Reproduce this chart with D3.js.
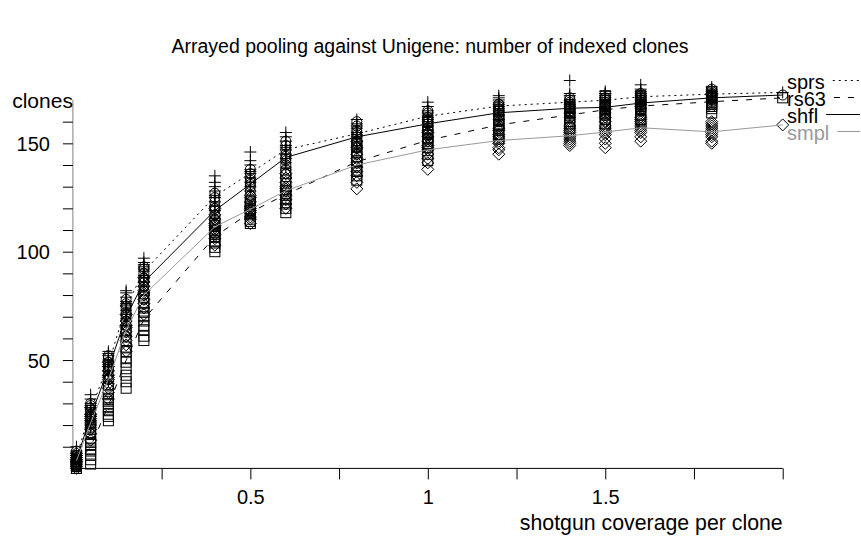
<!DOCTYPE html>
<html>
<head>
<meta charset="utf-8">
<script src="https://cdn.jsdelivr.net/npm/d3@7"></script>
<style>
  html, body { margin: 0; padding: 0; background: #fff; }
  svg { display: block; }
  text { font-family: "Liberation Sans", Arial, sans-serif; }
</style>
</head>
<body>
<svg id="chart" width="861" height="540"></svg>
<script>
// ---- data ----
const title = "Arrayed pooling against Unigene: number of indexed clones";
const xLabel = "shotgun coverage per clone";
const yLabel = "clones";
const coverage = [0.01, 0.05, 0.1, 0.15, 0.2, 0.4, 0.5, 0.6, 0.8, 1.0, 1.2, 1.4, 1.5, 1.6, 1.8, 2.0];
const xTickValues = [0.25, 0.5, 0.75, 1, 1.25, 1.5, 1.75, 2];
const xTickLabels = {0.5: "0.5", 1: "1", 1.5: "1.5"};
const yTickValues = [10, 20, 30, 40, 50, 60, 70, 80, 90, 100, 110, 120, 130, 140, 150, 160];
const yTickLabels = {50: "50", 100: "100", 150: "150"};
const seriesNames = ["sprs", "rs63", "shfl", "smpl"];

// replicate values per coverage level
const sprs = [
  [1,2,3,4,5,5,6,7,8,10], [19,22,24,25,27,28,29,30,32,34], [40,43,45,47,48,49,50,52,53,54],
  [66,69,71,73,75,76,77,79,81,82], [84,86,88,89,91,92,93,94,95,97], [116,119,121,123,125,126,128,130,132,135],
  [128,130,132,134,136,137,138,140,142,146], [139,141,143,145,147,148,149,151,153,155],
  [147,149,151,153,154,155,157,158,159,161], [156,158,160,161,162,163,164,165,167,169],
  [161,163,165,166,167,168,169,170,171,172], [162,164,166,167,168,169,170,172,173,179],
  [164,166,167,169,170,171,172,173,173,174], [166,168,169,170,171,172,173,174,175,177],
  [169,170,171,172,173,173,174,174,175,176], [173.5]
];
const rs63 = [
  [0,0,1,1,2,2,3,3,4,4], [2,4,6,8,9,11,12,14,16,18], [22,24,25,27,28,30,31,32,34,37],
  [37,40,43,46,49,51,54,56,59,63], [59,61,64,66,68,70,72,74,76,79], [100,102,104,105,107,108,109,110,112,113],
  [113,114,115,117,118,119,120,121,122,123], [118,120,122,124,126,127,128,130,133,136],
  [133,135,137,139,141,142,144,146,148,150], [142,145,148,150,151,152,154,155,157,160],
  [152,154,156,157,158,159,160,161,163,165], [157,159,160,162,163,164,165,166,167,168],
  [159,161,163,164,165,166,167,168,170,172], [161,163,165,166,167,168,169,170,171,172],
  [164,166,167,168,169,170,171,171,172,174], [171]
];
const shfl = [
  [1,1,2,3,4,4,5,6,6,8], [16,19,21,23,24,25,26,27,29,30], [38,41,43,45,46,47,48,49,51,52],
  [61,64,66,68,70,71,72,74,76,78], [78,80,82,84,86,87,88,90,92,93], [110,113,115,117,119,120,121,123,125,127],
  [124,126,128,130,131,132,133,134,136,138], [136,138,140,142,143,144,145,147,149,151],
  [145,148,150,151,153,154,155,156,158,160], [152,154,156,157,159,160,161,162,164,165],
  [158,160,162,163,164,165,166,167,168,168], [160,162,164,165,166,167,168,169,170,171],
  [161,163,164,166,167,167,168,169,170,171], [163,165,166,168,169,169,170,171,172,173],
  [167,168,169,170,171,171,172,173,174,175], [172.3]
];
const smpl = [
  [0,1,2,3,3,4,4,5,6,7], [13,16,18,20,21,22,23,24,25,28], [32,35,37,39,41,42,43,45,47,49],
  [54,57,59,61,63,65,66,68,71,75], [71,74,76,78,80,81,82,84,86,88], [103,106,108,110,111,112,113,115,117,120],
  [113,115,116,118,119,120,121,123,125,126], [120,122,124,126,128,129,130,132,134,136],
  [129,132,135,137,139,141,143,145,148,151], [138,141,143,145,147,148,149,151,153,155],
  [145,147,148,150,151,152,153,154,156,157], [149,150,151,152,153,154,155,156,157,158],
  [148,150,152,154,155,156,157,158,160,162], [151,153,155,156,157,158,159,160,161,162],
  [150,151,153,154,155,156,157,158,159,160], [158.5]
];

// ---- chart ----
const svg = d3.select("#chart");
const x = d3.scaleLinear().domain([0, 2]).range([72.9, 782.7]);
const y = d3.scaleLinear().domain([0, 170]).range([468.4, 100]);

const styles = {
  sprs: {stroke: "#000", dash: "2,4", marker: "plus", text: "#000"},
  rs63: {stroke: "#000", dash: "6,8", marker: "square", text: "#000"},
  shfl: {stroke: "#000", dash: null, marker: "circle", text: "#000"},
  smpl: {stroke: "#999", dash: null, marker: "diamond", text: "#999"}
};
const dataMap = {sprs, rs63, shfl, smpl};

// title
svg.append("text").attr("x", 430).attr("y", 53).attr("text-anchor", "middle")
  .attr("font-size", 19.5).attr("fill", "#000").text(title);

// x axis
const xAxis = d3.axisBottom(x).tickValues(xTickValues).tickSize(11)
  .tickFormat(d => xTickLabels[d] || "");
const gx = svg.append("g").attr("transform", `translate(0,${y(0)})`).call(xAxis);
gx.select(".domain").attr("d", `M${x(0)},0H${x(2)}`).attr("stroke", "#000");
gx.selectAll(".tick line").attr("stroke", "#000");
gx.selectAll(".tick text").attr("font-size", 20).attr("font-family", "Liberation Sans, Arial, sans-serif")
  .attr("fill", "#000").attr("dy", null).attr("y", 36);

// y axis
const yAxis = d3.axisLeft(y).tickValues(yTickValues).tickSize(10)
  .tickFormat(d => yTickLabels[d] || "");
const gy = svg.append("g").attr("transform", `translate(${x(0)},0)`).call(yAxis);
gy.select(".domain").attr("d", `M0,${y(0)}V${y(170)}`).attr("stroke", "#808080");
gy.selectAll(".tick line").attr("stroke", "#000");
gy.selectAll(".tick text").attr("font-size", 20).attr("font-family", "Liberation Sans, Arial, sans-serif")
  .attr("fill", "#000").attr("x", -23).attr("dy", "0.36em");

// axis labels
svg.append("text").attr("x", x(0)).attr("y", 108).attr("text-anchor", "end")
  .attr("font-size", 21).attr("fill", "#000").text(yLabel);
svg.append("text").attr("x", x(2)).attr("y", 530).attr("text-anchor", "end")
  .attr("font-size", 21.3).attr("fill", "#000").text(xLabel);

// markers
function drawMarker(g, type, cx, cy) {
  const s = 5;
  if (type === "plus") {
    g.append("path").attr("d", `M${cx - 6},${cy}H${cx + 6}M${cx},${cy - 6}V${cy + 6}`);
  } else if (type === "square") {
    g.append("rect").attr("x", cx - s).attr("y", cy - s).attr("width", 2 * s).attr("height", 2 * s);
  } else if (type === "circle") {
    g.append("circle").attr("cx", cx).attr("cy", cy).attr("r", s);
  } else {
    g.append("path").attr("d", `M${cx},${cy - 6}L${cx + 6},${cy}L${cx},${cy + 6}L${cx - 6},${cy}Z`);
  }
}
const mg = svg.append("g").attr("fill", "none").attr("stroke", "#000").attr("stroke-width", 1);
seriesNames.forEach(name => {
  const st = styles[name];
  dataMap[name].forEach((reps, i) => {
    reps.forEach(v => drawMarker(mg, st.marker, x(coverage[i]), y(v)));
  });
});

// mean lines
const line = d3.line().x(d => x(d[0])).y(d => y(d[1]));
seriesNames.forEach(name => {
  const st = styles[name];
  const pts = coverage.map((c, i) => [c, d3.mean(dataMap[name][i])]);
  svg.append("path").attr("d", line(pts)).attr("fill", "none")
    .attr("stroke", st.stroke).attr("stroke-width", 1)
    .attr("stroke-dasharray", st.dash);
});

// legend
const legendBase = [89, 106, 123, 140];
seriesNames.forEach((name, i) => {
  const st = styles[name];
  const t = svg.append("text").attr("x", 787).attr("y", legendBase[i])
    .attr("font-size", 20).attr("fill", st.text).text(name);
  const w = t.node().getComputedTextLength();
  svg.append("line").attr("x1", 787 + w + 8).attr("x2", 860)
    .attr("y1", legendBase[i] - 8.5).attr("y2", legendBase[i] - 8.5)
    .attr("stroke", st.stroke).attr("stroke-width", 1).attr("stroke-dasharray", st.dash);
});
</script>
</body>
</html>
